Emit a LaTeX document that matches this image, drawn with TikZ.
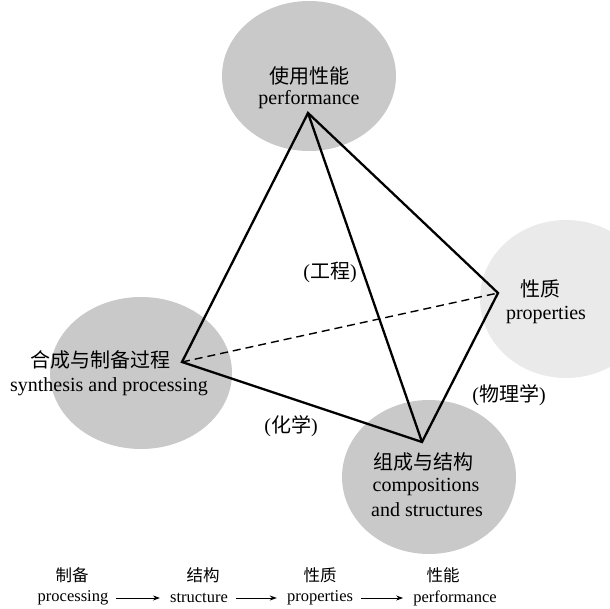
\documentclass[tikz,border=0pt]{standalone}
\usepackage{fontspec}
\setmainfont{Liberation Serif}
\newfontfamily\cjk{Noto Sans CJK SC}
\usetikzlibrary{arrows.meta}
\definecolor{blobdark}{HTML}{C9C9C9}
\definecolor{bloblight}{HTML}{EAEAEA}
\tikzset{
  lbl/.style={font=\fontsize{20}{23}\selectfont, inner sep=0pt, anchor=center},
  small/.style={font=\fontsize{16.5}{19}\selectfont, inner sep=0pt, anchor=center},
  edge/.style={line width=2.3pt, line join=miter},
  hidden/.style={line width=1.4pt, dash pattern=on 8pt off 5pt},
  flow/.style={line width=0.9pt, -{Stealth[length=7pt,width=5pt]}, shorten <=8pt, shorten >=10pt},
}
\begin{document}
\begin{tikzpicture}[x=1pt,y=-1pt]
\useasboundingbox (0,0) rectangle (610,609);
% circles
\fill[blobdark] (309,76) ellipse [x radius=87, y radius=75];
\fill[blobdark] (141,373) ellipse [x radius=91, y radius=76];
\fill[blobdark] (429,477) ellipse [x radius=87, y radius=77];
\fill[bloblight] (566,299) ellipse [x radius=86, y radius=79];
% vertices
\coordinate (T) at (308,113);
\coordinate (L) at (182,362);
\coordinate (R) at (498,293);
\coordinate (B) at (422,442);
% edges
\draw[hidden] (L) -- (R);
\draw[edge] (T) -- (L) -- (B) -- (R) -- cycle;
\draw[edge] (T) -- (B);
% labels
\node[lbl] (t1) at (309,76) {\cjk 使用性能};
\node[lbl] (t2) at (309,100) {performance};
\node[lbl] (l1) at (100,360) {\cjk 合成与制备过程};
\node[lbl] (l2) at (109,387) {synthesis and processing};
\node[lbl] (r1) at (540,289) {\cjk 性质};
\node[lbl] (r2) at (546,315) {properties};
\node[lbl] (b1) at (423,462) {\cjk 组成与结构};
\node[lbl] (b2) at (426,487) {compositions};
\node[lbl] (b3) at (427,510) {and structures};
\node[lbl] (e1) at (330,272) {({\cjk 工程})};
\node[lbl] (e2) at (509,395) {({\cjk 物理学})};
\node[lbl] (e3) at (291,426) {({\cjk 化学})};
% bottom flow
\node[small] (p1) at (72,575) {\cjk 制备};
\node[small] (p2) at (73,598) {processing};
\node[small] (s1) at (203,575) {\cjk 结构};
\node[small] (s2) at (199,598) {structure};
\node[small] (q1) at (320,575) {\cjk 性质};
\node[small] (q2) at (320,598) {properties};
\node[small] (f1) at (443,575) {\cjk 性能};
\node[small] (f2) at (455,598) {performance};
\draw[flow] (p2.east) -- (s2.west);
\draw[flow] (s2.east) -- (q2.west);
\draw[flow] (q2.east) -- (f2.west);
\end{tikzpicture}
\end{document}
